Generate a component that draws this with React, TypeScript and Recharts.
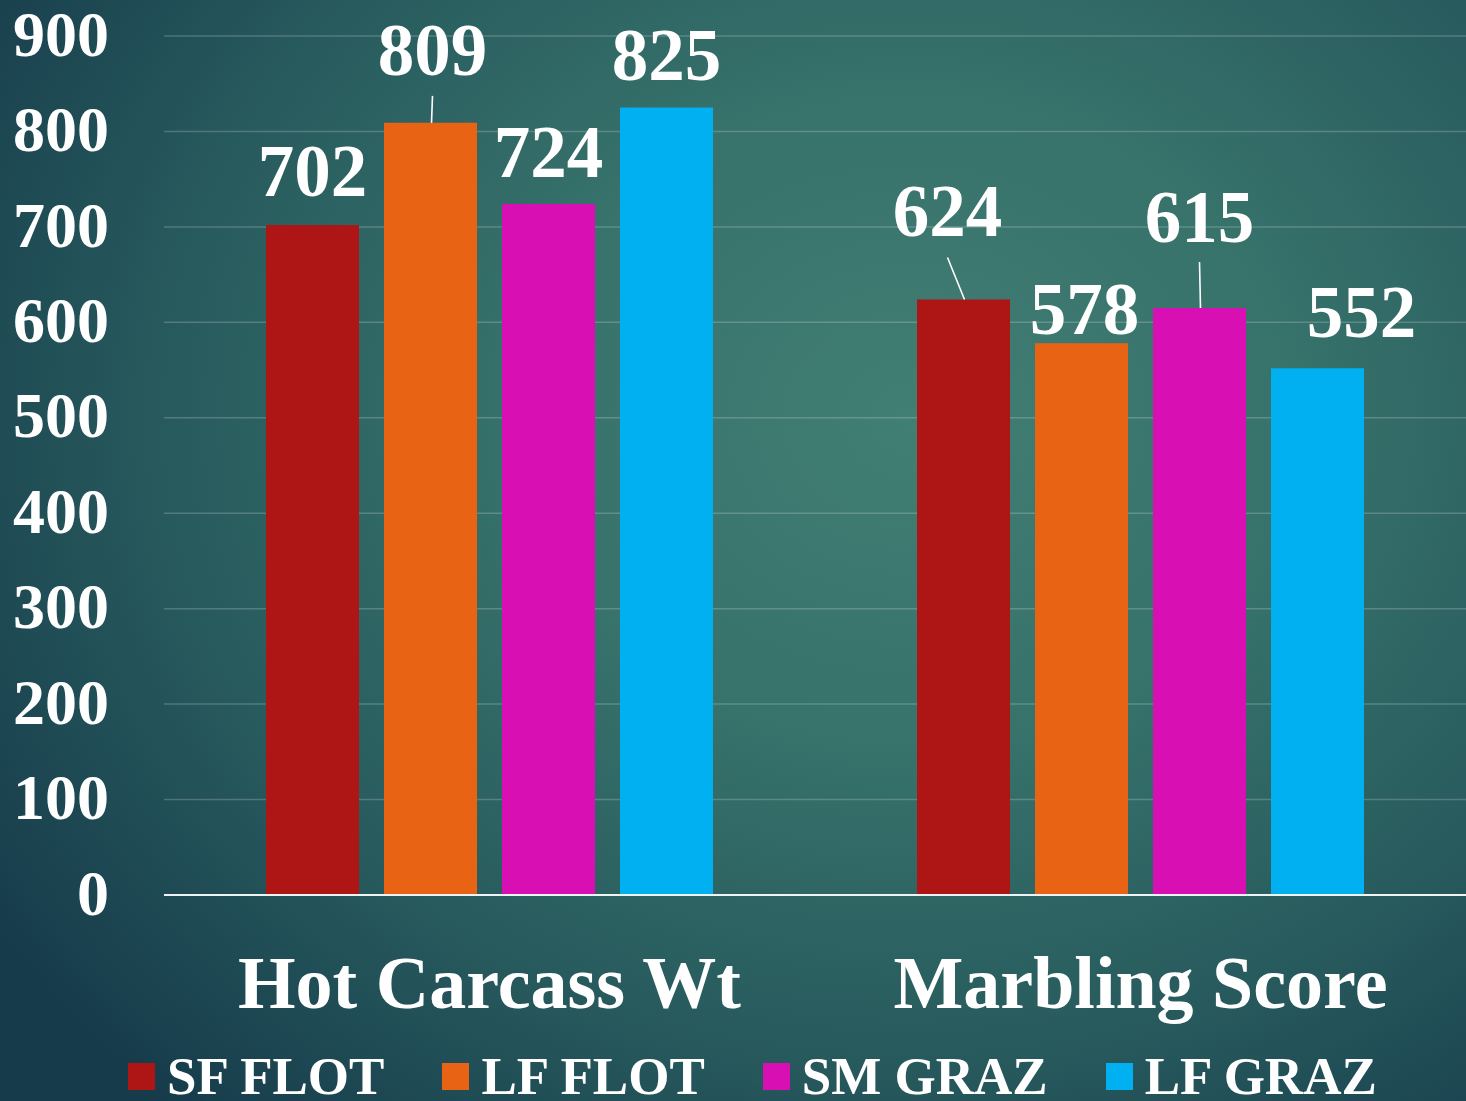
import React from "react";
import { BarChart, Bar, XAxis, YAxis, CartesianGrid, LabelList } from "recharts";

const categories = ["Hot Carcass Wt", "Marbling Score"];
const sfFlot = [702, 624];
const lfFlot = [809, 578];
const smGraz = [724, 615];
const lfGraz = [825, 552];
const yTicks = [0, 100, 200, 300, 400, 500, 600, 700, 800, 900];

const series = [
  { key: "sfFlot", name: "SF FLOT", values: sfFlot, color: "#AE1515" },
  { key: "lfFlot", name: "LF FLOT", values: lfFlot, color: "#E86414" },
  { key: "smGraz", name: "SM GRAZ", values: smGraz, color: "#D810B4" },
  { key: "lfGraz", name: "LF GRAZ", values: lfGraz, color: "#00B0F0" },
];

const data = categories.map((name, i) => {
  const row: Record<string, string | number> = { name };
  series.forEach((s) => (row[s.key] = s.values[i]));
  return row;
});

// where each value label sits relative to its bar (dx from bar centre, gap above bar top),
// plus an optional leader line end point
type Placement = { dx: number; gap: number; lead?: [number, number] };
const placement: Record<string, Placement[]> = {
  sfFlot: [{ dx: 0, gap: 29 }, { dx: -16, gap: 63, lead: [-16, 42] }],
  lfFlot: [{ dx: 2, gap: 48, lead: [2, 27] }, { dx: 3, gap: 9 }],
  smGraz: [{ dx: 0, gap: 27 }, { dx: 0, gap: 66, lead: [0, 46] }],
  lfGraz: [{ dx: 0, gap: 28 }, { dx: 44, gap: 31 }],
};

const FONT = "'Liberation Serif', 'Times New Roman', serif";

function makeLabel(key: string) {
  return (props: any) => {
    const { x, y, width, value, index } = props;
    const p = placement[key][index];
    const cx = Number(x) + Number(width) / 2;
    const top = Number(y);
    return (
      <g>
        {p.lead && (
          <line
            x1={cx + p.lead[0]}
            y1={top - p.lead[1]}
            x2={cx + 1}
            y2={top}
            stroke="#ffffff"
            strokeWidth={1.6}
          />
        )}
        <text
          x={cx + p.dx}
          y={top - p.gap}
          textAnchor="middle"
          fill="#ffffff"
          fontFamily={FONT}
          fontWeight="bold"
          fontSize={73}
        >
          {value}
        </text>
      </g>
    );
  };
}

export default function App() {
  return (
    <div
      style={{
        position: "absolute",
        left: 0,
        top: 0,
        width: 1466,
        height: 1101,
        overflow: "hidden",
        background:
          "radial-gradient(ellipse 75% 85% at 62% 38%, #417e73 0%, #37726b 35%, #275a5d 68%, #163b4b 100%)",
        fontFamily: FONT,
      }}
    >
      <BarChart
        width={1466}
        height={1050}
        data={data}
        margin={{ top: 36, right: 0, left: 0, bottom: 0 }}
        barSize={93}
        barGap={25}
      >
        <CartesianGrid vertical={false} stroke="rgba(255,255,255,0.2)" strokeWidth={1.5} />
        <XAxis
          dataKey="name"
          height={155}
          tickLine={false}
          tickSize={0}
          tickMargin={60}
          axisLine={{ stroke: "#eef3f3", strokeWidth: 2 }}
          tick={{ fill: "#ffffff", fontSize: 74, fontWeight: "bold", fontFamily: FONT }}
        />
        <YAxis
          width={164}
          domain={[0, 900]}
          ticks={yTicks}
          interval={0}
          axisLine={false}
          tickLine={false}
          tickSize={0}
          tickMargin={55}
          tick={{ fill: "#ffffff", fontSize: 64, fontWeight: "bold", fontFamily: FONT, dy: -3 }}
        />
        {series.map((s) => (
          <Bar key={s.key} dataKey={s.key} name={s.name} fill={s.color} isAnimationActive={false}>
            <LabelList dataKey={s.key} content={makeLabel(s.key)} />
          </Bar>
        ))}
      </BarChart>
      <div
        style={{
          position: "absolute",
          left: 128,
          top: 1049,
          height: 54,
          display: "flex",
          alignItems: "center",
          gap: 58,
          color: "#ffffff",
          fontSize: 53,
          fontWeight: "bold",
          lineHeight: 1,
          whiteSpace: "nowrap",
        }}
      >
        {series.map((s) => (
          <div key={s.key} style={{ display: "flex", alignItems: "center", gap: 12 }}>
            <div style={{ width: 27, height: 27, background: s.color }} />
            <span>{s.name}</span>
          </div>
        ))}
      </div>
    </div>
  );
}
